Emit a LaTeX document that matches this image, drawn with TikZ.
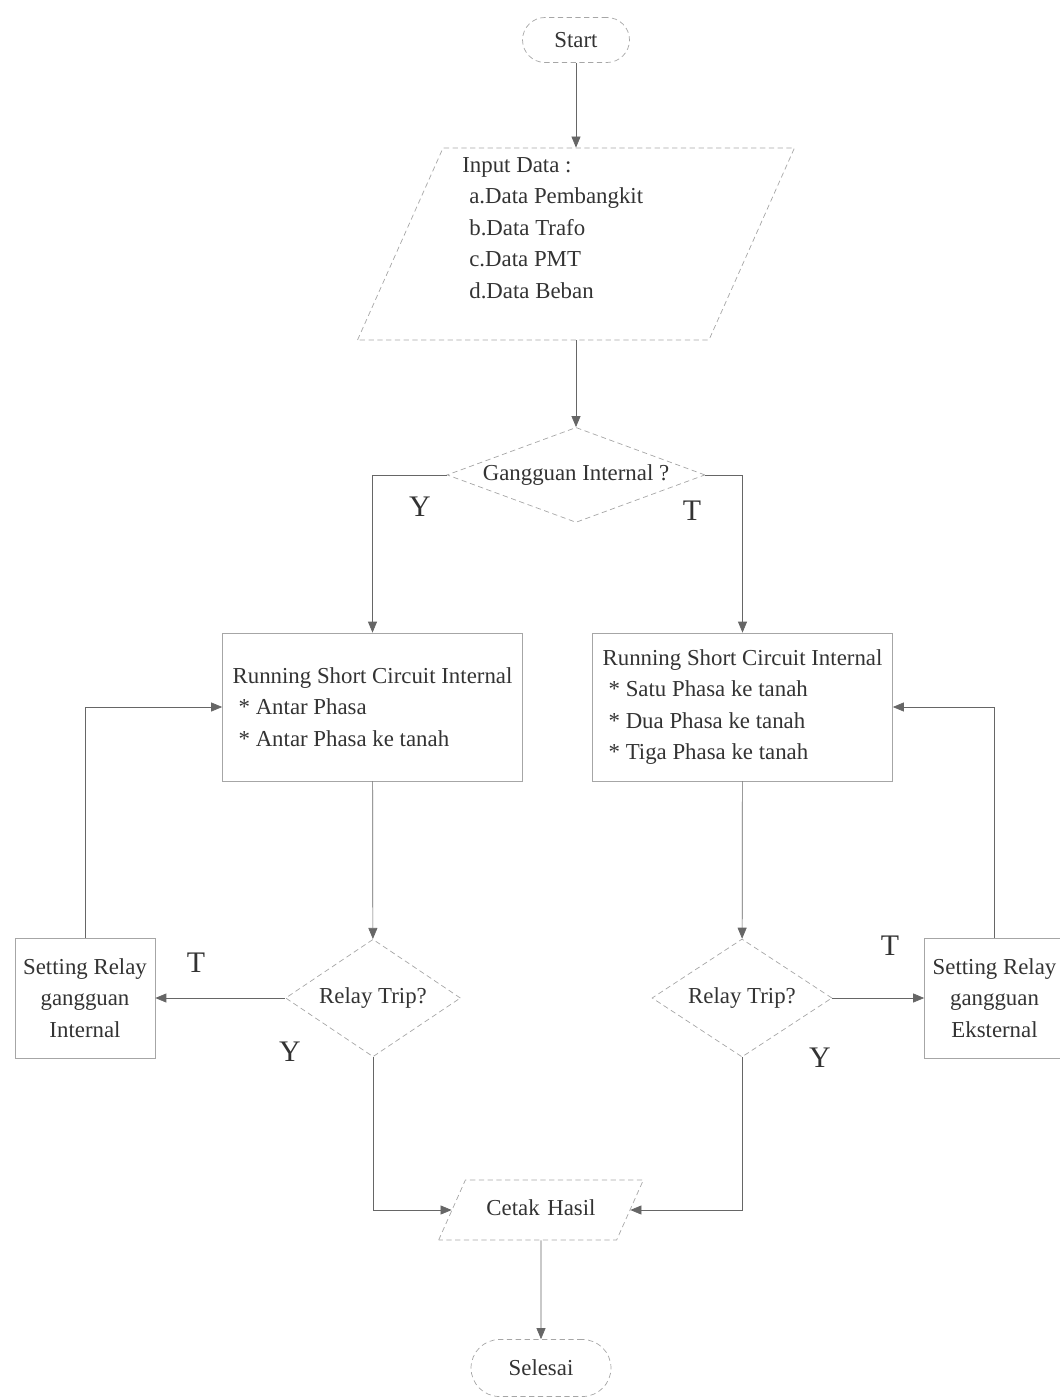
\documentclass[tikz,border=0pt]{standalone}
\usepackage{fontspec}
\setmainfont{Liberation Serif}
\usetikzlibrary{shapes.geometric,arrows.meta}

\begin{document}
\begin{tikzpicture}[
    x=0.02cm, y=0.02cm,
    font=\fontsize{13}{18}\selectfont, text=black!80,
    terminal/.style={rectangle, draw=gray!70, densely dashed, rounded corners=0.45cm, minimum width=2.14cm, minimum height=0.9cm},
    io/.style={trapezium, trapezium left angle=66, trapezium right angle=114, draw=gray!70, densely dashed},
    decision/.style={diamond, draw=gray!70, densely dashed, inner sep=0pt},
    process/.style={rectangle, draw=gray!70, minimum width=6cm, minimum height=2.96cm},
    setbox/.style={rectangle, draw=gray!70, align=center, minimum width=2.8cm, minimum height=2.4cm},
    lbl/.style={font=\fontsize{17}{20}\selectfont},
    arrow/.style={-{Triangle[length=2.2mm, width=1.8mm]}, draw=black!60, solid}
]
    \useasboundingbox (0,0) rectangle (1060,-1398);

    \node [terminal] (start) at (576,-40) {Start};
    \node [io, below of=start, node distance=4.08cm, inner xsep=2.66cm, inner ysep=1.92cm] (input) {};
    \node [anchor=west, align=left, inner sep=0pt] (inputtxt) at (462,-228) {Input Data :\\\hspace*{0.14cm}a.Data Pembangkit\\\hspace*{0.14cm}b.Data Trafo\\\hspace*{0.14cm}c.Data PMT\\\hspace*{0.14cm}d.Data Beban};
    \node [decision, below of=input, node distance=4.62cm, aspect=2.7, minimum width=5.16cm, minimum height=1.9cm] (gang) {Gangguan Internal ?};

    \node [process, align=left] (run1) at (372.5,-707) {Running Short Circuit Internal\\\hspace*{0.12cm}* Antar Phasa\\\hspace*{0.12cm}* Antar Phasa ke tanah};
    \node [process, align=left] (run2) at (742.5,-707) {Running Short Circuit Internal\\\hspace*{0.12cm}* Satu Phasa ke tanah\\\hspace*{0.12cm}* Dua Phasa ke tanah\\\hspace*{0.12cm}* Tiga Phasa ke tanah};

    \node [decision, aspect=1.5, minimum width=3.5cm, minimum height=2.35cm] (trip1) at (373,-998) {Relay Trip?};
    \node [decision, aspect=1.5, minimum width=3.6cm, minimum height=2.36cm] (trip2) at (742,-998) {Relay Trip?};
    \node [setbox] (setint) at (85,-998) {Setting Relay\\gangguan\\Internal};
    \node [setbox] (setext) at (994.5,-998) {Setting Relay\\gangguan\\Eksternal};

    \node [io, text width=2.2cm, align=center, text height=0.3cm, text depth=0.1cm, inner xsep=0.413cm, inner ysep=0.4cm] (cetak) at (541,-1210) {Cetak Hasil};
    \node [terminal, minimum width=2.8cm, minimum height=1.14cm, rounded corners=0.57cm] (selesai) at (541,-1368) {Selesai};

    % branch labels
    \node [lbl] (y1) at (420,-507) {Y};
    \node [lbl] (t1) at (692,-511) {T};
    \node [lbl] (t2) at (196,-963) {T};
    \node [lbl] (y2) at (290,-1052) {Y};
    \node [lbl] (t3) at (890,-946) {T};
    \node [lbl] (y3) at (820,-1058) {Y};

    \draw [arrow] (start) -- (input);
    \draw [arrow] (input) -- (gang);
    \draw [arrow] (gang.west) -| (run1.north);
    \draw [arrow] (gang.east) -| (run2.north);
    \draw [arrow] (run1) -- (trip1);
    \draw [arrow] (run2) -- (trip2);
    \draw [arrow] (trip1.west) -- (setint.east);
    \draw [arrow] (setint.north) |- (run1.west);
    \draw [arrow] (trip2.east) -- (setext.west);
    \draw [arrow] (setext.north) |- (run2.east);
    \draw [arrow] (trip1.south) |- (cetak.west);
    \draw [arrow] (trip2.south) |- (cetak.east);
    \draw [arrow] (cetak) -- (selesai);
\end{tikzpicture}
\end{document}
